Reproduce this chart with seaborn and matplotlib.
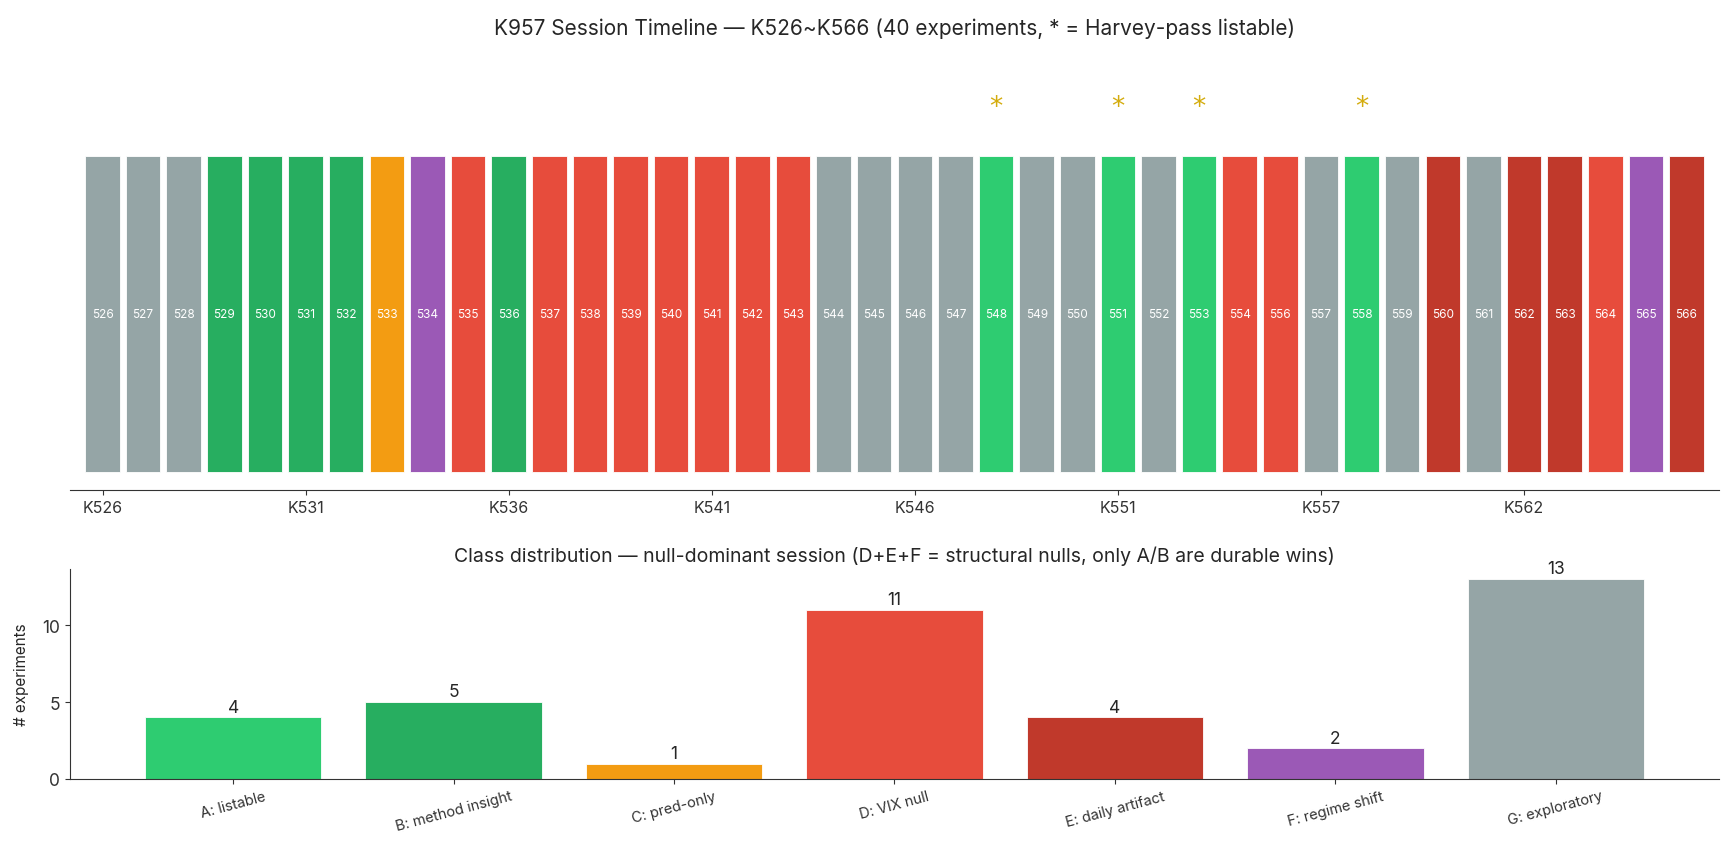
import numpy as np
import seaborn as sns
import matplotlib.pyplot as plt

# experiment ids and their class (K555 missing)
exp_ids = [526, 527, 528, 529, 530, 531, 532, 533, 534, 535,
           536, 537, 538, 539, 540, 541, 542, 543, 544, 545,
           546, 547, 548, 549, 550, 551, 552, 553, 554, 556,
           557, 558, 559, 560, 561, 562, 563, 564, 565, 566]
exp_class = ["G", "G", "G", "B", "B", "B", "B", "C", "F", "D",
             "B", "D", "D", "D", "D", "D", "D", "D", "G", "G",
             "G", "G", "A", "G", "G", "A", "G", "A", "D", "D",
             "G", "A", "G", "E", "G", "E", "E", "D", "F", "E"]
listable = [548, 551, 553, 558]

class_keys = ["A", "B", "C", "D", "E", "F", "G"]
class_labels = ["A: listable", "B: method insight", "C: pred-only", "D: VIX null",
                "E: daily artifact", "F: regime shift", "G: exploratory"]
class_counts = [4, 5, 1, 11, 4, 2, 13]
class_colors = ["#2ecc71", "#27ae60", "#f39c12", "#e74c3c", "#c0392b", "#9b59b6", "#95a5a6"]

sns.set_style("ticks")
plt.rcParams['font.family'] = ['Inter', 'DejaVu Sans']
plt.rcParams['axes.edgecolor'] = '#333333'
plt.rcParams['xtick.color'] = '#333333'
plt.rcParams['ytick.color'] = '#333333'

fig = plt.figure(figsize=(17.33, 8.54), dpi=100)
ax1 = fig.add_axes([0.0404, 0.425, 0.9515, 0.505])
ax2 = fig.add_axes([0.0404, 0.0867, 0.9515, 0.246])

# --- timeline ---
pal = dict(zip(class_keys, class_colors))
pos = np.arange(len(exp_ids))
sns.barplot(x=pos, y=np.ones(len(exp_ids)), hue=exp_class, palette=pal, saturation=1,
            legend=False, width=0.85, edgecolor="white", linewidth=0.6, ax=ax1)
for i, e in enumerate(exp_ids):
    ax1.text(i, 0.5, str(e), ha="center", va="center", color="white", fontsize=8.5)
    if e in listable:
        ax1.text(i, 1.155, "*", ha="center", va="center", color="#d4ac0d",
                 fontsize=19, family="DejaVu Sans")
ax1.set_xlim(-0.8, 39.8)
ax1.set_ylim(-0.057, 1.307)
ax1.set_xticks(pos[::5])
ax1.set_xticklabels([f"K{e}" for e in exp_ids[::5]], fontsize=11.5)
ax1.set_yticks([])
ax1.set_xlabel("")
sns.despine(ax=ax1, left=True)
ax1.set_title("K957 Session Timeline \u2014 K526~K566 (40 experiments, * = Harvey-pass listable)",
              fontsize=15, pad=18)

# --- class distribution ---
sns.barplot(x=class_labels, y=class_counts, hue=class_labels, palette=class_colors, saturation=1,
            legend=False, width=0.8, edgecolor="white", linewidth=0.6, ax=ax2)
for i, c in enumerate(class_counts):
    ax2.text(i, c + 0.1, str(c), ha="center", va="bottom", fontsize=12.5)
ax2.set_xlim(-0.74, 6.74)
ax2.set_ylim(0, 13.65)
ax2.set_yticks([0, 5, 10])
ax2.set_ylabel("# experiments", fontsize=11, labelpad=10)
ax2.tick_params(axis="y", labelsize=12.5)
ax2.tick_params(axis="x", labelsize=10.5, rotation=15)
ax2.set_title("Class distribution \u2014 null-dominant session (D+E+F = structural nulls, only A/B are durable wins)",
              fontsize=14)
sns.despine(ax=ax2)

fig.savefig("out.png", dpi=100)
